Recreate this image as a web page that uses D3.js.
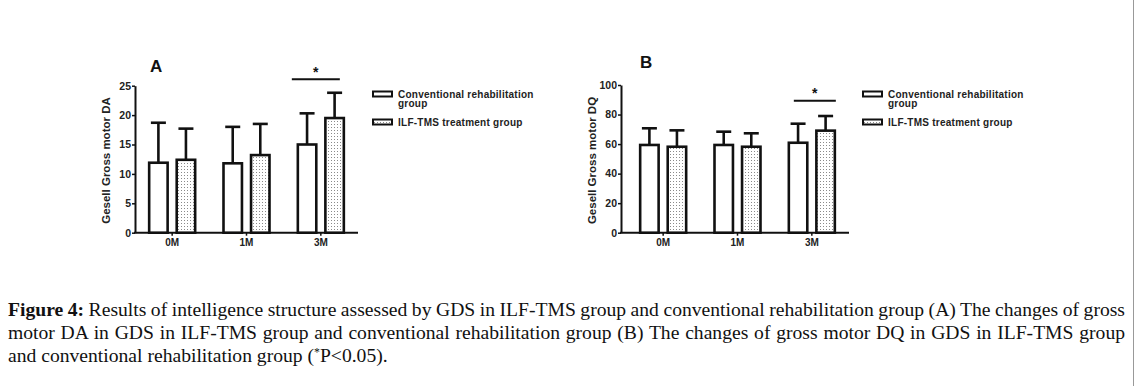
<!DOCTYPE html>
<html><head><meta charset="utf-8">
<script src="https://cdn.jsdelivr.net/npm/d3@7"></script>
<style>body{margin:0;background:#fff}svg{display:block}</style>
</head><body>
<svg id="c" width="1137" height="386"></svg>
<script>
const categories = ["0M","1M","3M"];
const seriesNames = ["Conventional rehabilitation group","ILF-TMS treatment group"];
// Panel A: Gesell Gross motor DA
const daConvMean = [11.9, 11.8, 15.0];
const daConvSD   = [6.8, 6.2, 5.3];
const daIlfMean  = [12.4, 13.2, 19.5];
const daIlfSD    = [5.3, 5.3, 4.3];
const daTicks = [0,5,10,15,20,25];
// Panel B: Gesell Gross motor DQ
const dqConvMean = [59.4, 59.4, 60.9];
const dqConvSD   = [11.3, 9.0, 12.9];
const dqIlfMean  = [58.2, 58.2, 69.1];
const dqIlfSD    = [11.1, 9.1, 9.9];
const dqTicks = [0,20,40,60,80,100];
const sigLevel = [26.1, 89.4];
const captionLines = [
  ["Figure 4:", " Results of intelligence structure assessed by GDS in ILF-TMS group and conventional rehabilitation group (A) The changes of gross"],
  ["", "motor DA in GDS in ILF-TMS group and conventional rehabilitation group (B) The changes of gross motor DQ in GDS in ILF-TMS group"],
  ["", "and conventional rehabilitation group ("]
];

const svg = d3.select("#c");
const defs = svg.append("defs");
const pat = defs.append("pattern").attr("id","dots").attr("patternUnits","userSpaceOnUse")
  .attr("width",3).attr("height",3);
pat.append("rect").attr("width",3).attr("height",3).attr("fill","#fff");
pat.append("rect").attr("x",1).attr("y",1).attr("width",1).attr("height",1).attr("fill","#8a8a8a");

const SANS = "'Liberation Sans', Arial, sans-serif";

function panel(o){
  const g = svg.append("g");
  const y = d3.scaleLinear().domain([0, o.ticks[o.ticks.length-1]]).range([232.7, o.yTop]);
  const x = d3.scaleBand().domain(categories).range(o.xr);
  const inner = d3.scaleBand().domain([0,1]).range([-23, 23]).paddingInner(0.33);
  // y axis
  const ya = g.append("g").attr("transform",`translate(${o.x0},0)`)
    .call(d3.axisLeft(y).tickValues(o.ticks).tickSize(3).tickSizeOuter(0).tickPadding(1));
  ya.select(".domain").attr("stroke-width",2).attr("stroke","#111");
  ya.selectAll(".tick line").attr("stroke-width",1.5).attr("stroke","#111");
  ya.selectAll(".tick text").attr("font-family",SANS).attr("font-weight","bold").attr("font-size","10.5px").attr("fill","#222");
  // x axis
  const xa = g.append("g").attr("transform",`translate(0,${y(0)})`)
    .call(d3.axisBottom(x).tickSize(3).tickSizeOuter(0).tickPadding(3));
  xa.select(".domain").remove();
  xa.selectAll(".tick line").attr("stroke-width",1.5).attr("stroke","#111");
  xa.selectAll(".tick text").attr("font-family",SANS).attr("font-weight","bold").attr("font-size","10px").attr("fill","#222");
  g.append("line").attr("x1",o.x0-1).attr("x2",o.xr[1]).attr("y1",y(0)).attr("y2",y(0))
    .attr("stroke","#111").attr("stroke-width",2);
  // bars
  const series = [{m:o.conv, s:o.convSD, fill:"#fff"},{m:o.ilf, s:o.ilfSD, fill:"url(#dots)"}];
  series.forEach((ser, si) => {
    categories.forEach((c, ci) => {
      const bx = x(c) + x.bandwidth()/2 + inner(si);
      const bw = inner.bandwidth();
      const cx = bx + bw/2;
      const top = y(ser.m[ci]), et = y(ser.m[ci] + ser.s[ci]);
      g.append("line").attr("x1",cx).attr("x2",cx).attr("y1",top).attr("y2",et)
        .attr("stroke","#111").attr("stroke-width",2.6);
      g.append("line").attr("x1",cx-7.5).attr("x2",cx+7.5).attr("y1",et).attr("y2",et)
        .attr("stroke","#111").attr("stroke-width",2.6);
      g.append("rect").attr("x",bx).attr("y",top).attr("width",bw).attr("height",y(0)-top)
        .attr("fill",ser.fill).attr("stroke","#111").attr("stroke-width",2.6);
    });
  });
  // significance
  const xc = x("3M") + x.bandwidth()/2;
  const sy = y(o.sig);
  g.append("line").attr("x1",xc+o.sigOff[0]).attr("x2",xc+o.sigOff[1]).attr("y1",sy).attr("y2",sy)
    .attr("stroke","#111").attr("stroke-width",2);
  g.append("text").attr("x",xc+(o.sigOff[0]+o.sigOff[1])/2).attr("y",sy-2.5).attr("text-anchor","middle")
    .attr("font-family",SANS).attr("font-weight","bold").attr("font-size","14px").attr("fill","#111").text("*");
  // y label
  g.append("text").attr("transform",`translate(${o.labX},160.5) rotate(-90)`).attr("text-anchor","middle")
    .attr("font-family",SANS).attr("font-weight","bold").attr("font-size","11.5px").attr("fill","#222").text(o.label);
  // panel letter
  g.append("text").attr("x",o.letter[0]).attr("y",o.letter[1]).attr("font-family",SANS).attr("font-weight","bold")
    .attr("font-size","17px").attr("fill","#111").text(o.letterText);
  // legend
  const lg = g.append("g").attr("transform",`translate(${o.leg[0]},${o.leg[1]})`);
  [0,1].forEach(i => {
    const yy = i === 0 ? 0 : 28;
    lg.append("rect").attr("x",0).attr("y",yy-2.5).attr("width",19).attr("height",5)
      .attr("fill", i===0 ? "#fff" : "url(#dots)").attr("stroke","#111").attr("stroke-width",2);
  });
  const lt = (yy) => lg.append("text").attr("x",25).attr("y",yy).attr("font-family",SANS).attr("font-weight","bold")
    .attr("font-size","10px").attr("letter-spacing","0.25px").attr("fill","#222");
  lt(3.6).text("Conventional rehabilitation");
  lt(13.4).text("group");
  lt(31.6).text(seriesNames[1]);
}

panel({x0:135, xr:[135,358], yTop:85.7, ticks:daTicks, conv:daConvMean, convSD:daConvSD, ilf:daIlfMean, ilfSD:daIlfSD,
  sig:sigLevel[0], sigOff:[-29,19], labX:110, label:"Gesell Gross motor DA", letter:[150,72], letterText:"A", leg:[373,94]});
panel({x0:621, xr:[626,849], yTop:85, ticks:dqTicks, conv:dqConvMean, convSD:dqConvSD, ilf:dqIlfMean, ilfSD:dqIlfSD,
  sig:sigLevel[1], sigOff:[-18,24], labX:596, label:"Gesell Gross motor DQ", letter:[640,68], letterText:"B", leg:[863,94]});

// caption
const SERIF = "'Liberation Serif','Times New Roman',serif";
const capX = 8, capRight = 1125, base = [316, 339, 362];
let fs = 17;
const cap = svg.append("g").attr("font-family",SERIF).attr("fill","#111");
function line3(size){
  cap.selectAll(".l3").remove();
  const t = cap.append("text").attr("class","l3").attr("x",capX).attr("y",base[2]).attr("font-size",size+"px");
  t.append("tspan").text(captionLines[2][1]);
  t.append("tspan").attr("font-size",(size*0.6)+"px").attr("dy",-6).text("*");
  t.append("tspan").attr("dy",6).text("P<0.05).");
  return t;
}
let t3 = line3(fs);
const w3 = t3.node().getComputedTextLength();
fs = fs * 380 / w3;
line3(fs);
[0,1].forEach(i => {
  const t = cap.append("text").attr("x",capX).attr("y",base[i]).attr("font-size",fs+"px");
  if (captionLines[i][0]) t.append("tspan").attr("font-weight","bold").text(captionLines[i][0]);
  t.append("tspan").text(captionLines[i][1]);
  const w = t.node().getComputedTextLength();
  const full = captionLines[i][0] + captionLines[i][1];
  const spaces = (full.match(/ /g) || []).length;
  t.attr("word-spacing", (capRight - capX - w) / spaces);
});
// right border
svg.append("line").attr("x1",1133.5).attr("x2",1133.5).attr("y1",0).attr("y2",386).attr("stroke","#999").attr("stroke-width",1);
</script>
</body></html>
